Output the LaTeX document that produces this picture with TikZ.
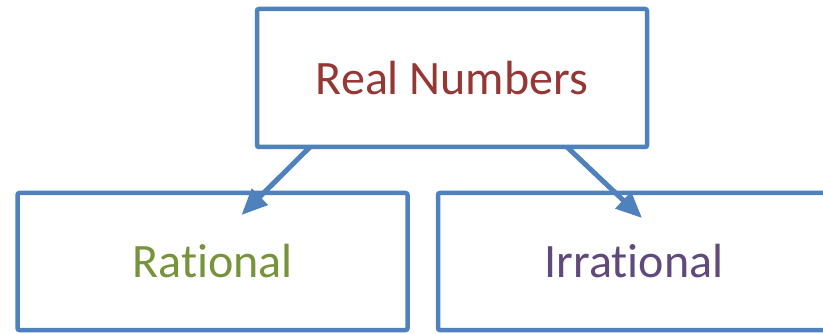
\documentclass[tikz,border=0pt]{standalone}
\usepackage{fontspec}
\setmainfont{Carlito}[Ligatures=NoCommon]
\usetikzlibrary{arrows.meta,shadows}
\definecolor{boxblue}{HTML}{4F81BD}
\definecolor{realred}{HTML}{953735}
\definecolor{ratgreen}{HTML}{77933C}
\definecolor{irrpurple}{HTML}{604A7B}

\begin{document}
\begin{tikzpicture}[
  x=1pt, y=-1pt,
  box/.style={draw=boxblue, line width=4.5pt, rounded corners=2pt, fill=white,
    minimum width=390pt, minimum height=138pt, outer sep=0pt,
    font=\fontsize{48pt}{57pt}\selectfont,
    drop shadow={shadow xshift=1.5pt, shadow yshift=-2pt, opacity=0.25, fill=black!60}},
  flow/.style={draw=boxblue, line width=5pt, -{Triangle[length=26pt, width=22pt]}}
]
\useasboundingbox (0,0) rectangle (823,334);
\node[box, text=realred] (real) at (452,78) {Real Numbers};
\node[box, text=ratgreen, minimum height=137pt] (rat) at (212.5,261.5) {Rational};
\node[box, text=irrpurple, minimum width=392pt, minimum height=137pt] (irr) at (634,261.5) {Irrational};
\draw[flow] ([xshift=53pt]real.south west) -- ([xshift=224pt, yshift=-22pt]rat.north west);
\draw[flow] ([xshift=-80pt]real.south east) -- ([xshift=204pt, yshift=-25pt]irr.north west);
\end{tikzpicture}
\end{document}
